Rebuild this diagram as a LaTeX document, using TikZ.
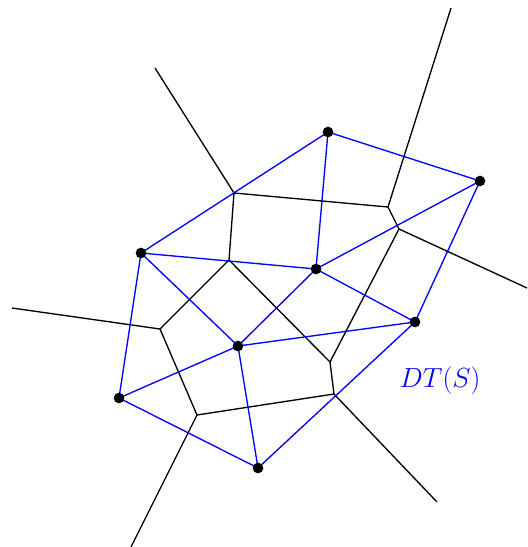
\documentclass[tikz,border=0pt]{standalone}
\usepackage{amsmath, amssymb}
\usepackage{xcolor}
\usepackage{tikz}
\usetikzlibrary{arrows.meta, positioning, calc}
\definecolor{dtblue}{HTML}{0000FF}
\tikzset{
  site/.style={circle,fill=black,inner sep=0pt,minimum size=8pt},
  vvert/.style={coordinate},
  voredge/.style={black,line width=1pt},
  dtedge/.style={dtblue,line width=1pt}
}

\begin{document}
\begin{tikzpicture}[x=0.75pt,y=-0.75pt]
  \useasboundingbox (0,0) rectangle (528,547);
  % Voronoi vertices and ray ends
  \foreach \n/\x/\y in {v1/234/193, v2/388/207, v3/399/229, v4/229/260,
    v5/160/329, v6/330/362, v7/334/394, v8/197/415,
    r1/155/68, r2/451/8, r3/527/288, r4/12/308, r5/131/547, r6/437/502}
    \coordinate (\n) at (\x,\y);
  % Voronoi diagram
  \foreach \a/\b in {v1/r1, v1/v2, v1/v4, v2/r2, v2/v3, v3/r3, v3/v6,
    v4/v5, v4/v6, v6/v7, v5/r4, v5/v8, v8/v7, v8/r5, v7/r6}
    \draw[voredge] (\a) -- (\b);
  % sites
  \foreach \n/\x/\y in {p1/328/132, p2/480/181, p3/141/253, p4/316/269,
    p5/415/322, p6/238/346, p7/119/398, p8/258/468}
    \coordinate (\n) at (\x,\y);
  % Delaunay triangulation
  \foreach \a/\b in {p3/p1, p1/p2, p1/p4, p2/p4, p2/p5, p3/p4, p3/p6,
    p3/p7, p4/p6, p4/p5, p6/p5, p7/p6, p7/p8, p6/p8, p8/p5}
    \draw[dtedge] (\a) -- (\b);
  \foreach \n in {p1,p2,p3,p4,p5,p6,p7,p8}
    \node[site] at (\n) {};
  \node[dtblue,font=\fontsize{22.5}{27}\selectfont] (dtlabel) at (440,381) {$DT(S)$};
\end{tikzpicture}
\end{document}
